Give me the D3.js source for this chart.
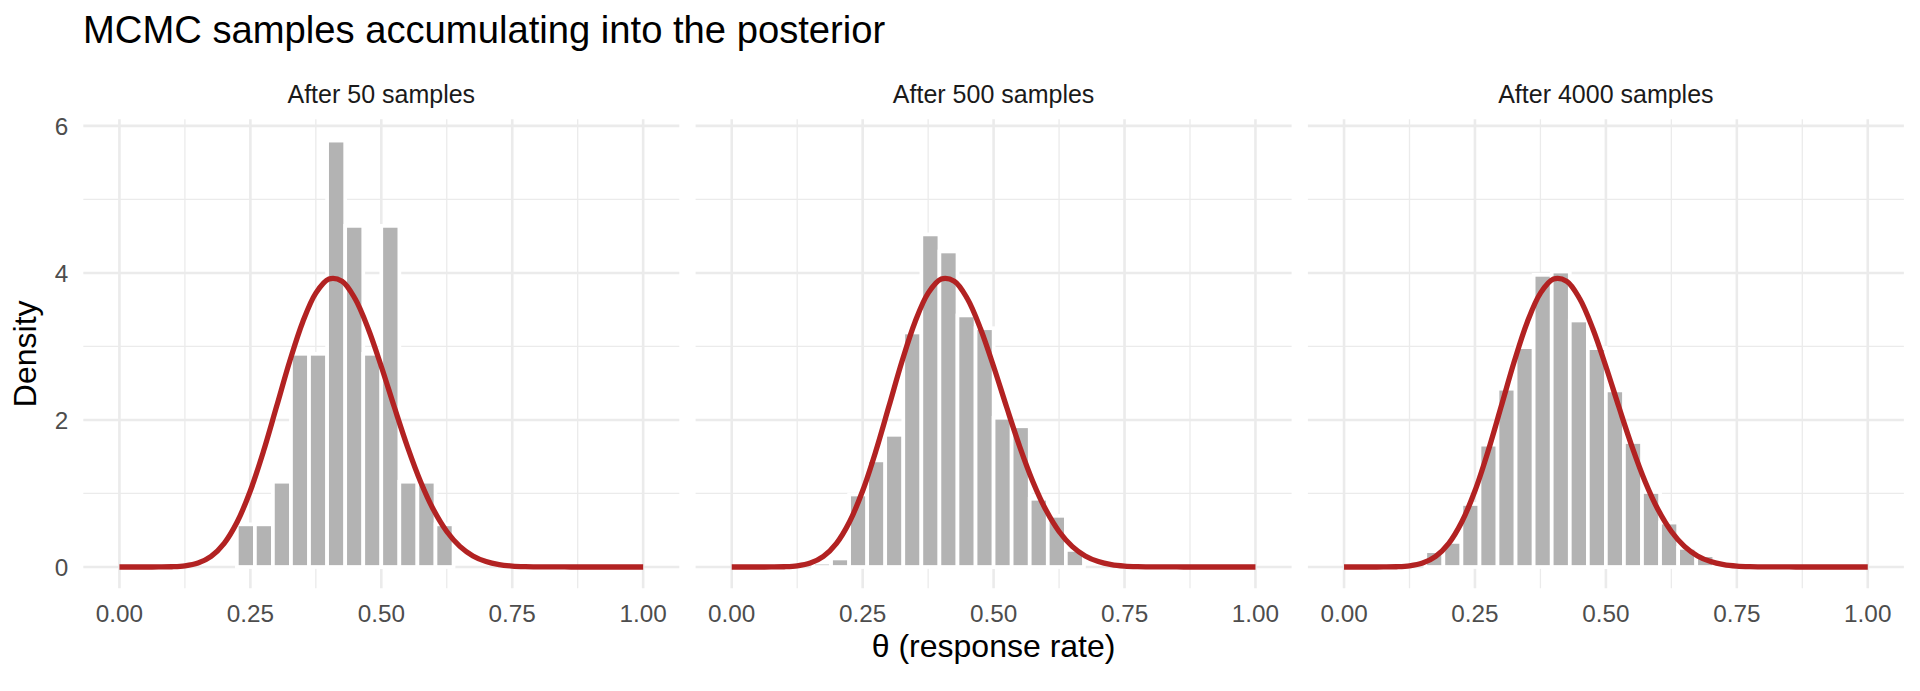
<!DOCTYPE html>
<html>
<head>
<meta charset="utf-8">
<script src="https://cdn.jsdelivr.net/npm/d3@7/dist/d3.min.js"></script>
<style>
  html, body { margin: 0; padding: 0; background: #fff; }
  svg { display: block; }
  text { font-family: "Liberation Sans", Arial, Helvetica, sans-serif; }
</style>
</head>
<body>
<svg id="chart" width="1920" height="691"></svg>
<script>
// ---------------- data ----------------
const panelTitles = ["After 50 samples", "After 500 samples", "After 4000 samples"];

// histogram bin centres (30 bins on [0,1], width ~0.0345)
const binCenters = [0.000, 0.0345, 0.069, 0.1034, 0.1379, 0.1724, 0.2069, 0.2414, 0.2759, 0.3103,
                    0.3448, 0.3793, 0.4138, 0.4483, 0.4828, 0.5172, 0.5517, 0.5862, 0.6207, 0.6552,
                    0.6897, 0.7241, 0.7586, 0.7931, 0.8276, 0.8621, 0.8966, 0.9310, 0.9655, 1.000];
const binWidth = 0.0345;

const density50 = [0, 0, 0, 0, 0, 0, 0, 0.58, 0.58, 1.16,
                   2.90, 2.90, 5.80, 4.64, 2.90, 4.64, 1.16, 1.16, 0.58, 0,
                   0, 0, 0, 0, 0, 0, 0, 0, 0, 0];
const density500 = [0, 0, 0, 0, 0, 0.058, 0.116, 0.986, 1.45, 1.798,
                    3.19, 4.524, 4.292, 3.422, 3.248, 2.03, 1.914, 0.928, 0.696, 0.232,
                    0, 0, 0, 0, 0, 0, 0, 0, 0, 0];
const density4000 = [0, 0, 0, 0, 0, 0.215, 0.341, 0.857, 1.664, 2.425,
                     2.99, 3.974, 4.019, 3.353, 2.977, 2.402, 1.70, 1.02, 0.604, 0.26,
                     0.16, 0.036, 0, 0, 0, 0, 0, 0, 0, 0];
const panelDensities = [density50, density500, density4000];

// posterior density curve
const curveX = [0, 0.025, 0.05, 0.075, 0.1, 0.125, 0.15, 0.175, 0.2, 0.225,
                0.25, 0.275, 0.3, 0.325, 0.35, 0.375, 0.4, 0.425, 0.45, 0.475,
                0.5, 0.525, 0.55, 0.575, 0.6, 0.625, 0.65, 0.675, 0.7, 0.725,
                0.75, 0.775, 0.8, 0.825, 0.85, 0.875, 0.9, 0.925, 0.95, 0.975, 1];
const curveY = [0, 0, 0.00001, 0.0003, 0.0029, 0.0150, 0.0532, 0.1444, 0.3221, 0.6152,
                1.0368, 1.5734, 2.1819, 2.7948, 3.3338, 3.7255, 3.9172, 3.8873, 3.6483, 3.2417,
                2.7277, 2.1723, 1.6348, 1.1602, 0.7738, 0.4828, 0.2802, 0.1502, 0.0736, 0.0326,
                0.0128, 0.0044, 0.0013, 0.0003, 0.0001, 0, 0, 0, 0, 0, 0];

const xMajor = [0, 0.25, 0.5, 0.75, 1];
const xMajorLabels = ["0.00", "0.25", "0.50", "0.75", "1.00"];
const xMinor = [0.125, 0.375, 0.625, 0.875];
const yMajor = [0, 2, 4, 6];
const yMinor = [1, 3, 5];

// ---------------- layout ----------------
const svg = d3.select("#chart");
const panelLefts = [83.3, 695.6, 1307.9];
const panelW = 596;
const panelTop = 119.3, panelBottom = 588.3;
const gridCol = "#ebebeb";

const y = d3.scaleLinear().domain([-0.29, 6.09]).range([panelBottom, panelTop]);

// title
svg.append("text")
  .attr("x", 83).attr("y", 43)
  .attr("font-size", 38.2).attr("fill", "#000")
  .text("MCMC samples accumulating into the posterior");

panelTitles.forEach((title, i) => {
  const L = panelLefts[i];
  const x = d3.scaleLinear().domain([-0.069, 1.069]).range([L, L + panelW]);
  const g = svg.append("g");

  // minor grid
  g.selectAll(".ymin").data(yMinor).enter().append("line")
    .attr("x1", L).attr("x2", L + panelW)
    .attr("y1", d => y(d)).attr("y2", d => y(d))
    .attr("stroke", gridCol).attr("stroke-width", 1.3);
  g.selectAll(".xmin").data(xMinor).enter().append("line")
    .attr("y1", panelTop).attr("y2", panelBottom)
    .attr("x1", d => x(d)).attr("x2", d => x(d))
    .attr("stroke", gridCol).attr("stroke-width", 1.3);
  // major grid
  g.selectAll(".ymaj").data(yMajor).enter().append("line")
    .attr("x1", L).attr("x2", L + panelW)
    .attr("y1", d => y(d)).attr("y2", d => y(d))
    .attr("stroke", gridCol).attr("stroke-width", 2.6);
  g.selectAll(".xmaj").data(xMajor).enter().append("line")
    .attr("y1", panelTop).attr("y2", panelBottom)
    .attr("x1", d => x(d)).attr("x2", d => x(d))
    .attr("stroke", gridCol).attr("stroke-width", 2.6);

  // histogram bars
  const dens = panelDensities[i];
  g.selectAll(".bar").data(binCenters.map((c, j) => ({c, d: dens[j]}))).enter().append("rect")
    .attr("x", d => x(d.c - binWidth / 2))
    .attr("width", d => x(d.c + binWidth / 2) - x(d.c - binWidth / 2))
    .attr("y", d => y(d.d))
    .attr("height", d => y(0) - y(d.d))
    .attr("fill", "#b3b3b3")
    .attr("stroke", "#ffffff")
    .attr("stroke-width", 3.7);

  // posterior curve
  const line = d3.line()
    .x(d => x(d[0])).y(d => y(d[1]))
    .curve(d3.curveCatmullRom.alpha(0.5));
  g.append("path")
    .datum(curveX.map((v, j) => [v, curveY[j]]))
    .attr("d", line)
    .attr("fill", "none")
    .attr("stroke", "#b22222")
    .attr("stroke-width", 5.3)
    .attr("stroke-linejoin", "round");

  // strip title
  svg.append("text")
    .attr("x", L + panelW / 2).attr("y", 103.3)
    .attr("text-anchor", "middle")
    .attr("font-size", 25).attr("fill", "#1a1a1a")
    .text(title);

  // x tick labels
  svg.selectAll(null).data(xMajor).enter().append("text")
    .attr("x", d => x(d)).attr("y", 621.7)
    .attr("text-anchor", "middle")
    .attr("font-size", 24.3).attr("fill", "#4d4d4d")
    .text((d, j) => xMajorLabels[j]);

  if (i === 0) {
    svg.selectAll(null).data(yMajor).enter().append("text")
      .attr("x", 68.3).attr("y", d => y(d))
      .attr("dy", "0.36em")
      .attr("text-anchor", "end")
      .attr("font-size", 24.3).attr("fill", "#4d4d4d")
      .text(d => d);
  }
});

// axis titles
svg.append("text")
  .attr("x", (panelLefts[0] + panelLefts[2] + panelW) / 2).attr("y", 657)
  .attr("text-anchor", "middle")
  .attr("font-size", 32).attr("fill", "#000")
  .text("θ (response rate)");

svg.append("text")
  .attr("transform", `translate(36, ${(panelTop + panelBottom) / 2}) rotate(-90)`)
  .attr("text-anchor", "middle")
  .attr("font-size", 32).attr("fill", "#000")
  .text("Density");
</script>
</body>
</html>
